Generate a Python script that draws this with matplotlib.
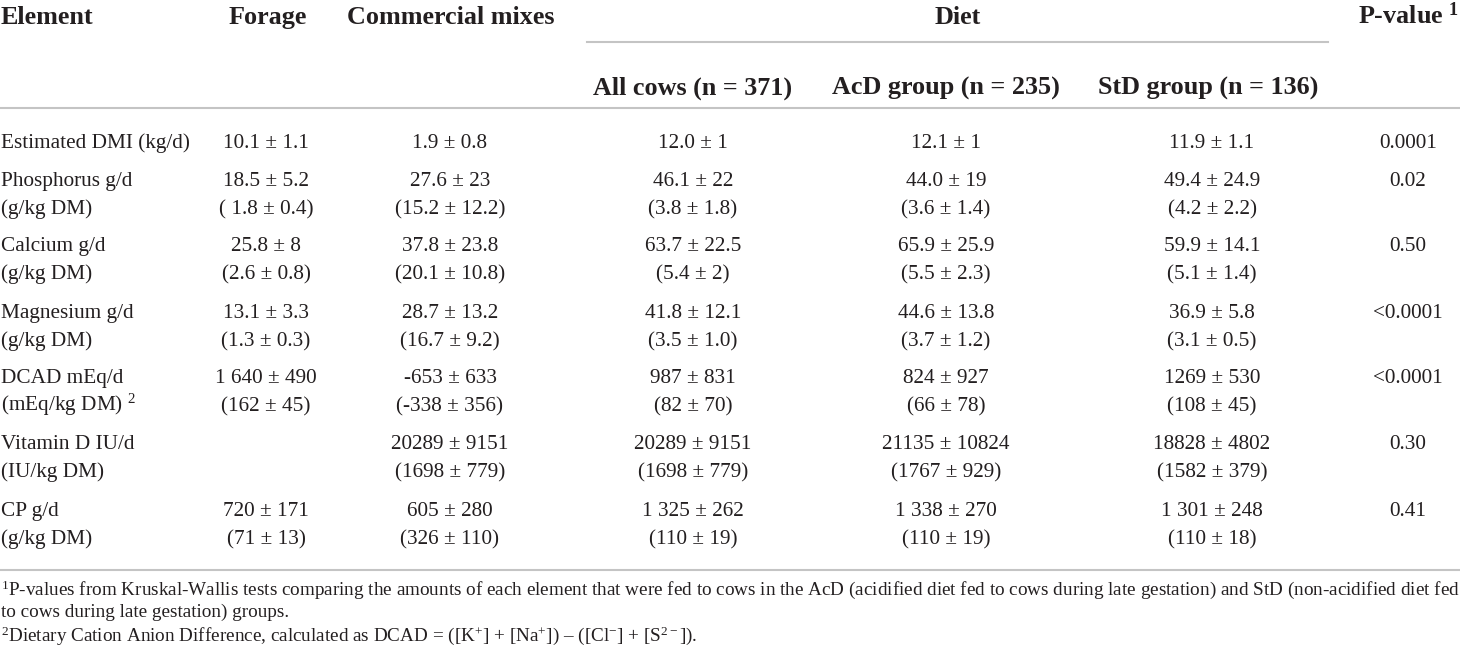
import matplotlib
matplotlib.use("Agg")
import matplotlib.pyplot as plt
from matplotlib.lines import Line2D

plt.rcParams["font.family"] = ["Liberation Serif", "DejaVu Serif"]
plt.rcParams["mathtext.fontset"] = "custom"
plt.rcParams["mathtext.rm"] = "Liberation Serif"
plt.rcParams["mathtext.it"] = "Liberation Serif:italic"
plt.rcParams["mathtext.bf"] = "Liberation Serif:bold"

# table content
headers_top = ["Element", "Forage", "Commercial mixes", "Diet", r"P-value $^{\mathbf{1}}$"]
headers_diet = ["All cows (n = 371)", "AcD group (n = 235)", "StD group (n = 136)"]

elements = ["Estimated DMI (kg/d)", "Phosphorus g/d", "Calcium g/d", "Magnesium g/d",
            "DCAD mEq/d", "Vitamin D IU/d", "CP g/d"]
element_dm = ["", "(g/kg DM)", "(g/kg DM)", "(g/kg DM)", "(mEq/kg DM) $^{2}$",
              "(IU/kg DM)", "(g/kg DM)"]

forage = ["10.1 ± 1.1", "18.5 ± 5.2", "25.8 ± 8", "13.1 ± 3.3", "1 640 ± 490", "", "720 ± 171"]
forage_dm = ["", "( 1.8 ± 0.4)", "(2.6 ± 0.8)", "(1.3 ± 0.3)", "(162 ± 45)", "", "(71 ± 13)"]

mixes = ["1.9 ± 0.8", "27.6 ± 23", "37.8 ± 23.8", "28.7 ± 13.2", "-653 ± 633",
         "20289 ± 9151", "605 ± 280"]
mixes_dm = ["", "(15.2 ± 12.2)", "(20.1 ± 10.8)", "(16.7 ± 9.2)", "(-338 ± 356)",
            "(1698 ± 779)", "(326 ± 110)"]

all_cows = ["12.0 ± 1", "46.1 ± 22", "63.7 ± 22.5", "41.8 ± 12.1", "987 ± 831",
            "20289 ± 9151", "1 325 ± 262"]
all_cows_dm = ["", "(3.8 ± 1.8)", "(5.4 ± 2)", "(3.5 ± 1.0)", "(82 ± 70)",
               "(1698 ± 779)", "(110 ± 19)"]

acd = ["12.1 ± 1", "44.0 ± 19", "65.9 ± 25.9", "44.6 ± 13.8", "824 ± 927",
       "21135 ± 10824", "1 338 ± 270"]
acd_dm = ["", "(3.6 ± 1.4)", "(5.5 ± 2.3)", "(3.7 ± 1.2)", "(66 ± 78)",
          "(1767 ± 929)", "(110 ± 19)"]

std = ["11.9 ± 1.1", "49.4 ± 24.9", "59.9 ± 14.1", "36.9 ± 5.8", "1269 ± 530",
       "18828 ± 4802", "1 301 ± 248"]
std_dm = ["", "(4.2 ± 2.2)", "(5.1 ± 1.4)", "(3.1 ± 0.5)", "(108 ± 45)",
          "(1582 ± 379)", "(110 ± 18)"]

p_values = ["0.0001", "0.02", "0.50", "<0.0001", "<0.0001", "0.30", "0.41"]

footnotes = [
    "$^{1}$P-values from Kruskal-Wallis tests comparing the amounts of each element that were fed to cows "
    "in the AcD (acidified diet fed to cows during late gestation) and StD (non-acidified diet fed",
    "to cows during late gestation) groups.",
    "$^{2}$Dietary Cation Anion Difference, calculated as DCAD = ([K$^{+}$] + [Na$^{+}$]) \u2013 "
    "([Cl$^{-}$] + [S$^{2-}$]).",
]

W, H = 1460, 656
fig = plt.figure(figsize=(W / 100, H / 100), dpi=100)
fig.patch.set_facecolor("white")

ink = "#231f20"
rule = "#c4c4c4"
head_size = 18.8
body_size = 15.3
foot_size = 13.8


def put(x, y, s, ha="center", size=body_size, weight="normal"):
    fig.text(x / W, 1 - y / H, s, ha=ha, va="baseline", fontsize=size,
             fontweight=weight, color=ink)


def hline(x0, x1, y):
    fig.add_artist(Line2D([x0 / W, x1 / W], [1 - y / H, 1 - y / H],
                          transform=fig.transFigure, color=rule, lw=1.5))


# header
put(1, 24, headers_top[0], ha="left", size=head_size, weight="bold")
put(268, 24, headers_top[1], size=head_size, weight="bold")
put(451, 24, headers_top[2], size=head_size, weight="bold")
put(958, 24, headers_top[3], size=head_size, weight="bold")
put(1459, 24, headers_top[4], ha="right", size=head_size, weight="bold")
for x, s in zip([693, 946, 1208], headers_diet):
    put(x, 95, s, size=head_size, weight="bold")

hline(587, 1328, 42)
hline(0, W, 108)

# body
col_x = [266, 450, 693, 946, 1212]
cols = [(forage, forage_dm), (mixes, mixes_dm), (all_cows, all_cows_dm),
        (acd, acd_dm), (std, std_dm)]
row_base = [148, 186, 251, 318, 383, 449, 516]
gap = 28

for i, y in enumerate(row_base):
    put(1, y, elements[i], ha="left")
    if element_dm[i]:
        put(1, y + gap, element_dm[i], ha="left")
    for x, (top, bottom) in zip(col_x, cols):
        if top[i]:
            put(x, y, top[i])
        if bottom[i]:
            put(x, y + gap, bottom[i])
    put(1408, y, p_values[i])

hline(0, W, 570)

# footnotes
for y, s in zip([595, 617, 641], footnotes):
    put(1, y, s, ha="left", size=foot_size)

fig.savefig("out.png", dpi=100, facecolor="white")
